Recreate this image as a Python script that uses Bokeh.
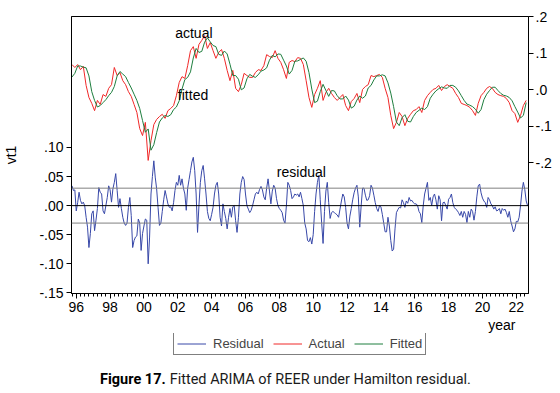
import math
from bokeh.plotting import figure
from bokeh.layouts import column
from bokeh.models import (Range1d, LinearAxis, FixedTicker, Span, Label, Legend,
                          LegendItem, ColumnDataSource, Title)
from bokeh.embed import file_html
from bokeh.resources import INLINE

# ---------------- data ----------------
start_year = 1995.75          # first observation
resid_step = 1.0 / 12.0       # residual read monthly
af_step = 1.0 / 6.0           # actual / fitted read every two months

residual = [
    .034, .026, .027, -.009, .005, .023, .009, .003, .006, .0,
    -.02, -.037, -.072, -.048, -.014, -.009, -.043, -.025, -.005, .031,
    .023, .02, -.009, -.014, .0, .014, .034, .027, .006, .029,
    .04, .055, .026, -.003, .012, -.005, -.02, -.03, -.034, -.03,
    -.003, .014, -.017, -.072, -.06, -.054, -.052, -.023, -.03, -.077,
    -.048, -.035, -.023, -.025, -.1, -.054, .02, .05, .077, .049,
    .029, -.003, -.034, -.03, -.01, .01, .026, .015, .003, -.003,
    -.002, -.009, .005, .026, .04, .035, .052, .035, .046, .03,
    .02, -.008, .03, .045, .06, .075, .083, .06, .02, -.046,
    .0, .04, .06, .069, .046, .02, -.01, -.022, -.026, -.015,
    -.003, .02, .035, .04, .02, -.02, -.035, .003, -.01, -.022,
    -.04, -.02, -.005, -.02, -.002, .0, -.026, -.046, -.02, .02,
    .04, .05, .045, .02, .0, -.006, -.012, -.008, .0, .01,
    .02, .023, .02, .028, .033, .027, .015, .01, .03, .046,
    .025, .003, .025, .035, .03, .012, .0, -.005, -.008, -.012,
    -.025, -.03, .0, .04, .035, .026, .012, .015, .02, .018,
    .02, .015, .023, .012, .0, -.03, -.04, -.06, -.062, -.055,
    -.066, -.05, -.01, .02, .04, .052, .01, -.03, -.065, -.01,
    .025, .04, .005, -.022, -.012, -.01, -.012, -.014, -.016, -.02,
    -.006, .008, .02, .015, -.003, -.03, -.04, -.018, -.005, .01,
    .022, .03, .035, .015, -.037, .0, .03, .03, .018, .009,
    .01, .017, .035, .03, .018, .005, -.005, -.01, .0, -.002,
    -.015, -.03, -.045, -.045, -.02, -.035, -.06, -.078, -.075, -.04,
    -.012, -.007, -.003, -.004, .01, .005, -.003, .008, .004, .014,
    .008, .009, .005, .003, .003, .0, -.01, -.014, -.029, .0,
    .02, .03, .04, .009, .014, .0, .015, .02, .01, -.006,
    .017, .01, -.026, .005, .006, .0, -.006, .011, .014, .02,
    .005, -.003, -.006, -.008, -.012, -.017, -.01, -.02, -.01, -.015,
    -.029, -.01, -.02, -.006, -.01, -.025, -.01, .015, .034, .037,
    .022, .013, .008, .005, -.003, .014, .01, .003, .0, -.006,
    -.002, -.009, -.008, -.005, -.014, -.005, -.008, -.006, -.012, -.02,
    -.01, -.026, -.035, -.045, -.04, -.027, -.028, -.02, .0, .025,
    .04, .028, .008, .0,
]

actual = [
    .069, .061, .069, .055, .064, .012, -.021, -.037, -.057, -.029,
    -.040, -.013, -.018, .004, .014, .061, .039, .047, .025, .014,
    -.005, -.018, -.040, -.062, -.106, -.125, -.089, -.193, -.139, -.095,
    -.081, -.073, -.067, -.078, -.057, -.051, -.043, -.016, .020, .036,
    .031, .066, .107, .118, .086, .124, .135, .148, .113, .129,
    .107, .086, .102, .110, .086, .053, .025, .053, .004, -.005,
    .014, .045, .039, .034, .034, .047, .055, .053, .066, .096,
    .091, .088, .107, .086, .075, .055, .031, .075, .080, .077,
    .088, .086, .069, .025, -.021, -.048, -.013, .004, .025, -.029,
    -.007, .004, -.010, -.021, -.029, -.021, -.013, -.043, -.057, -.032,
    -.024, -.010, -.035, .001, .009, .014, .039, .036, .039, .042,
    .034, .004, -.021, -.070, -.106, -.089, -.062, -.073, -.098, -.078,
    -.067, -.057, -.054, -.046, -.062, -.029, -.016, -.007, .001, .004,
    .012, -.002, .009, .014, .009, .004, -.010, -.021, -.037, -.040,
    -.043, -.048, -.057, -.070, -.037, -.016, -.007, .004, .009, .004,
    -.007, -.013, -.016, -.018, -.024, -.035, -.057, -.065, -.089, -.070,
    -.043, -.029,
]

fitted = [
    .035, .045, .065, .065, .062, .060, .038, -.005, -.029, -.047,
    -.043, -.035, -.027, -.016, -.007, .009, .038, .050, .043, .036,
    .020, .005, -.012, -.029, -.051, -.084, -.116, -.107, -.165, -.150,
    -.117, -.088, -.077, -.070, -.073, -.068, -.054, -.047, -.030, .002,
    .028, .034, .049, .087, .113, .102, .105, .130, .142, .131,
    .121, .118, .097, .094, .106, .098, .070, .039, .039, .029,
    .000, .005, .030, .042, .037, .034, .041, .051, .054, .060,
    .081, .094, .090, .098, .097, .081, .065, .043, .053, .078,
    .079, .083, .087, .078, .047, .002, -.035, -.031, -.005, .015,
    -.002, -.018, -.002, -.003, -.016, -.025, -.025, -.017, -.028, -.050,
    -.045, -.028, -.017, -.023, -.017, .005, .012, .027, .038, .038,
    .041, .038, .019, -.009, -.046, -.088, -.098, -.076, -.068, -.086,
    -.088, -.073, -.062, -.056, -.050, -.054, -.046, -.023, -.012, -.003,
    .003, .008, .005, .004, .012, .012, .007, -.003, -.016, -.029,
    -.039, -.042, -.046, -.053, -.064, -.054, -.027, -.012, -.002, .007,
    .007, -.002, -.010, -.015, -.017, -.021, -.030, -.046, -.061, -.077,
    -.070, -.035,
]

year_ticks = list(range(1996, 2023, 2))
year_labels = ["96", "98", "00", "02", "04", "06", "08", "10", "12", "14",
               "16", "18", "20", "22"]
left_ticks = [-0.15, -0.10, -0.05, 0.0, 0.05, 0.10]
left_labels = ["-.15", "-.10", "-.05", ".00", ".05", ".10"]
right_ticks = [-0.2, -0.1, 0.0, 0.1, 0.2]
right_labels = ["-.2", "-.1", ".0", ".1", ".2"]
resid_sd = 0.03
series_names = ["Residual", "Actual", "Fitted"]

t_res = [start_year + i * resid_step for i in range(len(residual))]
t_af = [start_year + i * af_step for i in range(len(actual))]

FONT = "Liberation Sans"
CAP_FONT = "Roboto"
BLUE = "#3848a8"
RED = "#f02828"
GREEN = "#1e7e3e"
W = 556
H_MAIN = 333
H_CAP = 57
FRAME_L, FRAME_W = 67, 461

p = figure(width=W, height=H_MAIN, output_backend="svg", toolbar_location=None,
           x_range=Range1d(1995.72, 2022.72), y_range=Range1d(-0.151, 0.325),
           min_border_left=FRAME_L, min_border_right=W - FRAME_L - FRAME_W,
           min_border_top=16, min_border_bottom=H_MAIN - 16 - 277)
p.extra_y_ranges = {"right": Range1d(-0.5566, 0.2003)}
p.xgrid.visible = False
p.ygrid.visible = False
p.outline_line_color = "black"
p.outline_line_width = 1
p.background_fill_color = "white"
p.border_fill_color = "white"

# axes
xa = p.xaxis[0]
xa.ticker = FixedTicker(ticks=year_ticks,
                        minor_ticks=[1995.75 + q * 0.25 for q in range(109)])
xa.major_label_overrides = {float(t): l for t, l in zip(year_ticks, year_labels)}
ya = p.yaxis[0]
ya.ticker = FixedTicker(ticks=left_ticks, minor_ticks=[])
ya.major_label_overrides = {t: l for t, l in zip(left_ticks, left_labels)}
ya.axis_label = "vt1"
ya.axis_label_standoff = 17
ya.axis_label_text_font = FONT
ya.axis_label_text_font_size = "14px"
ya.axis_label_text_font_style = "normal"
ya.axis_label_text_color = "black"
ra = LinearAxis(y_range_name="right",
                ticker=FixedTicker(ticks=right_ticks, minor_ticks=[]))
ra.major_label_overrides = {t: l for t, l in zip(right_ticks, right_labels)}
p.add_layout(ra, "right")

for ax in (xa, ya, ra):
    ax.major_label_text_font = FONT
    ax.major_label_text_font_size = "14px"
    ax.major_label_text_color = "black"
    ax.axis_line_color = "black"
    ax.major_tick_line_color = "black"
    ax.major_tick_in = 0
    ax.major_tick_out = 5
xa.minor_tick_in = 0
xa.minor_tick_out = 3
xa.minor_tick_line_color = "black"
xa.major_label_standoff = 3
ya.major_label_standoff = 3
ra.major_label_standoff = 2
ya.minor_tick_line_color = None
ra.minor_tick_line_color = None

# reference lines for residual
p.add_layout(Span(location=0.0, dimension="width", line_color="black", line_width=1))
p.add_layout(Span(location=resid_sd, dimension="width", line_color="#808080", line_width=1))
p.add_layout(Span(location=-resid_sd, dimension="width", line_color="#808080", line_width=1))

src_res = ColumnDataSource(dict(t=t_res, v=residual))
src_af = ColumnDataSource(dict(t=t_af, a=actual, f=fitted))
r_res = p.line("t", "v", source=src_res, line_color=BLUE, line_width=1)
r_act = p.line("t", "a", source=src_af, line_color=RED, line_width=1,
               y_range_name="right")
r_fit = p.line("t", "f", source=src_af, line_color=GREEN, line_width=1,
               y_range_name="right")

# in-plot labels
def lab(x, y, text, rng="default"):
    p.add_layout(Label(x=x, y=y, text=text, text_font=FONT, text_font_size="14px",
                       text_color="black", text_align="center",
                       text_baseline="middle", y_range_name=rng))

lab(2002.95, 0.154, "actual", rng="right")
lab(2002.9, -0.014, "fitted", rng="right")
lab(2009.3, 0.057, "residual")

# "year" below the axis, right aligned
p.add_layout(Title(text="year", align="right", offset=13, standoff=0,
                   text_font=FONT, text_font_size="14px",
                   text_font_style="normal", text_color="black"), "below")

# ---------------- legend + caption strip ----------------
# the column aligns this strip's frame with the chart frame, so its x range
# is expressed in page pixels across that frame
cap = figure(width=W, height=H_CAP, output_backend="svg", toolbar_location=None,
             x_axis_type=None, y_axis_type=None,
             x_range=Range1d(FRAME_L, FRAME_L + FRAME_W), y_range=Range1d(0, H_CAP),
             min_border=0, min_border_left=FRAME_L,
             min_border_right=W - FRAME_L - FRAME_W,
             min_border_top=0, min_border_bottom=0)
cap.grid.visible = False
cap.outline_line_color = None
cap.background_fill_color = "white"
cap.border_fill_color = "white"

# legend keys: no visible points, they only carry the line styles
nan = float("nan")
k_res = cap.line(x=[nan], y=[nan], line_color=BLUE, line_width=1)
k_act = cap.line(x=[nan], y=[nan], line_color=RED, line_width=1)
k_fit = cap.line(x=[nan], y=[nan], line_color=GREEN, line_width=1)
legend = Legend(items=[LegendItem(label=series_names[0], renderers=[k_res]),
                       LegendItem(label=series_names[1], renderers=[k_act]),
                       LegendItem(label=series_names[2], renderers=[k_fit])],
                location=(169 - FRAME_L, H_CAP - 22), orientation="horizontal",
                border_line_color="black", border_line_width=1,
                background_fill_color="white", background_fill_alpha=1,
                label_text_font=FONT, label_text_font_size="13px",
                glyph_width=29, glyph_height=13, label_height=13,
                label_standoff=7, spacing=9, padding=3, margin=0)
cap.add_layout(legend)

cap.add_layout(Label(x=162, y=11, text="Figure 17.", text_font=CAP_FONT,
                     text_font_style="bold", text_font_size="14.5px",
                     text_color="black", text_align="right",
                     text_baseline="middle"))
cap.add_layout(Label(x=166, y=11,
                     text="Fitted ARIMA of REER under Hamilton residual.",
                     text_font=CAP_FONT, text_font_size="14.5px",
                     text_color="#1a1a1a", text_align="left",
                     text_baseline="middle"))

layout = column(p, cap, spacing=0)
open("out.html", "w").write(file_html(layout, INLINE))
